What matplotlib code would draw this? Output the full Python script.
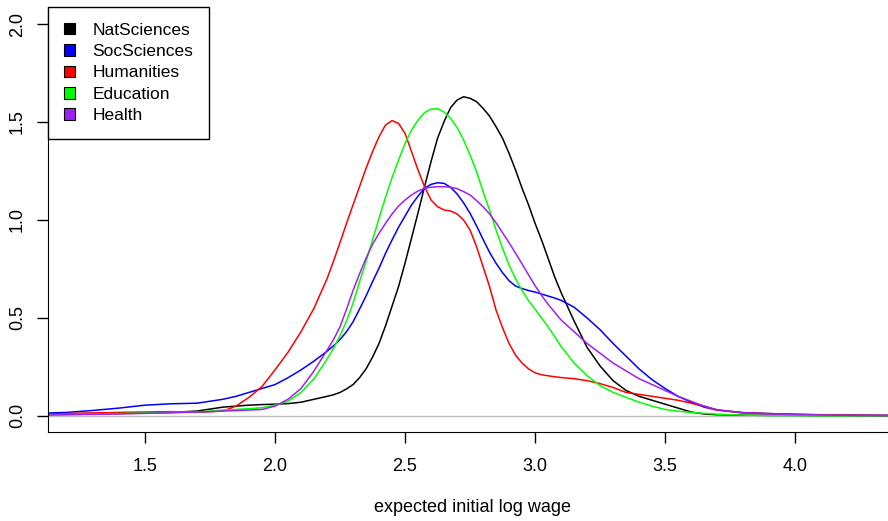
import matplotlib
matplotlib.use("Agg")
import matplotlib.pyplot as plt
from matplotlib.patches import Patch

plt.rcParams['font.family'] = ['Liberation Sans', 'DejaVu Sans']

# log wage values the curves were read at (finer around the peaks)
x = [1.13, 1.2, 1.3, 1.4, 1.5, 1.6, 1.7, 1.8, 1.85, 1.9,
     1.95, 2.0, 2.05, 2.1, 2.15,
     2.2, 2.225, 2.25, 2.275, 2.3, 2.325, 2.35, 2.375, 2.4, 2.425,
     2.45, 2.475, 2.5, 2.525, 2.55, 2.575, 2.6, 2.625, 2.65, 2.675,
     2.7, 2.725, 2.75, 2.775, 2.8, 2.825, 2.85, 2.875, 2.9, 2.925,
     2.95, 2.975, 3.0, 3.025, 3.05, 3.075, 3.1,
     3.15, 3.2, 3.25, 3.3, 3.35, 3.4, 3.45, 3.5, 3.55, 3.6,
     3.65, 3.7, 3.8, 3.9, 4.0, 4.1, 4.2, 4.39]

nat = [0.010, 0.011, 0.013, 0.014, 0.015, 0.018, 0.025, 0.045, 0.050, 0.055,
       0.058, 0.060, 0.063, 0.070, 0.085,
       0.100, 0.108, 0.120, 0.138, 0.160, 0.195, 0.240, 0.300, 0.370, 0.460,
       0.560, 0.660, 0.780, 0.908, 1.037, 1.170, 1.298, 1.417, 1.502, 1.573,
       1.612, 1.629, 1.621, 1.604, 1.570, 1.530, 1.476, 1.417, 1.340, 1.255,
       1.162, 1.077, 0.983, 0.898, 0.805, 0.711, 0.630,
       0.485, 0.350, 0.255, 0.180, 0.130, 0.100, 0.080, 0.060, 0.040, 0.020,
       0.010, 0.006, 0.004, 0.003, 0.003, 0.002, 0.002, 0.001]

soc = [0.015, 0.018, 0.028, 0.040, 0.055, 0.062, 0.065, 0.085, 0.100, 0.120,
       0.140, 0.160, 0.195, 0.235, 0.280,
       0.330, 0.358, 0.390, 0.430, 0.480, 0.545, 0.612, 0.685, 0.754, 0.830,
       0.898, 0.963, 1.020, 1.077, 1.122, 1.162, 1.182, 1.190, 1.187, 1.167,
       1.133, 1.088, 1.034, 0.970, 0.901, 0.835, 0.779, 0.731, 0.690, 0.663,
       0.650, 0.640, 0.632, 0.622, 0.612, 0.602, 0.590,
       0.555, 0.500, 0.440, 0.370, 0.305, 0.240, 0.185, 0.140, 0.100, 0.070,
       0.045, 0.030, 0.017, 0.012, 0.008, 0.006, 0.004, 0.002]

hum = [0.010, 0.012, 0.015, 0.018, 0.020, 0.022, 0.018, 0.025, 0.050, 0.095,
       0.150, 0.235, 0.325, 0.430, 0.550,
       0.700, 0.790, 0.885, 0.983, 1.077, 1.170, 1.264, 1.349, 1.425, 1.485,
       1.507, 1.493, 1.442, 1.349, 1.255, 1.170, 1.102, 1.068, 1.051, 1.046,
       1.031, 1.000, 0.949, 0.864, 0.762, 0.660, 0.540, 0.450, 0.370, 0.310,
       0.270, 0.240, 0.220, 0.210, 0.205, 0.200, 0.196,
       0.190, 0.180, 0.165, 0.145, 0.120, 0.110, 0.100, 0.090, 0.080, 0.065,
       0.050, 0.030, 0.015, 0.012, 0.008, 0.006, 0.004, 0.002]

edu = [0.005, 0.007, 0.010, 0.012, 0.015, 0.018, 0.020, 0.030, 0.033, 0.037,
       0.042, 0.055, 0.075, 0.120, 0.190,
       0.290, 0.345, 0.410, 0.485, 0.575, 0.685, 0.787, 0.898, 1.009, 1.116,
       1.216, 1.306, 1.391, 1.459, 1.510, 1.548, 1.566, 1.568, 1.551, 1.519,
       1.473, 1.408, 1.332, 1.247, 1.145, 1.051, 0.949, 0.855, 0.770, 0.700,
       0.640, 0.588, 0.545, 0.500, 0.455, 0.405, 0.355,
       0.270, 0.205, 0.155, 0.120, 0.095, 0.070, 0.050, 0.033, 0.024, 0.018,
       0.013, 0.009, 0.004, 0.002, 0.002, 0.001, 0.001, 0.001]

hea = [0.005, 0.006, 0.008, 0.010, 0.013, 0.016, 0.020, 0.025, 0.027, 0.030,
       0.033, 0.050, 0.085, 0.140, 0.230,
       0.335, 0.390, 0.455, 0.545, 0.640, 0.725, 0.805, 0.876, 0.932, 0.983,
       1.031, 1.071, 1.102, 1.128, 1.148, 1.162, 1.167, 1.170, 1.170, 1.167,
       1.160, 1.145, 1.128, 1.099, 1.068, 1.031, 0.986, 0.935, 0.884, 0.830,
       0.776, 0.720, 0.665, 0.615, 0.570, 0.530, 0.490,
       0.430, 0.370, 0.320, 0.270, 0.230, 0.190, 0.160, 0.130, 0.100, 0.075,
       0.050, 0.032, 0.016, 0.010, 0.007, 0.005, 0.003, 0.002]

labels = ["NatSciences", "SocSciences", "Humanities", "Education", "Health"]
colors = ["black", "blue", "red", "#00FF00", "#A020F0"]
series = [nat, soc, hum, edu, hea]

xticks = [1.5, 2.0, 2.5, 3.0, 3.5, 4.0]
yticks = [0.0, 0.5, 1.0, 1.5, 2.0]

fig = plt.figure(figsize=(8.88, 5.21), dpi=100)
ax = fig.add_axes([48/888, (521-432)/521, (896-48)/888, (432-7)/521])

ax.axhline(0, color="#bebebe", lw=1.0, zorder=1)
for y, c in zip(series, colors):
    ax.plot(x, y, color=c, lw=1.1, zorder=2, solid_joinstyle="round")

ax.set_xlim(1.127, 4.388)
ax.set_ylim(-0.082, 2.087)
ax.set_xticks(xticks)
ax.set_yticks(yticks)
ax.set_xticklabels(["%.1f" % v for v in xticks])
ax.set_yticklabels(["%.1f" % v for v in yticks], rotation=90, va="center")
ax.tick_params(axis="both", labelsize=13, length=8, width=1)
ax.tick_params(axis="x", pad=11)
ax.tick_params(axis="y", pad=8)

ax.spines["top"].set_visible(False)
ax.spines["right"].set_visible(False)

ax.set_xlabel("expected initial log wage", fontsize=13)
ax.xaxis.set_label_coords(0.5, -(508-432)/(432-7))
ax.xaxis.label.set_va("center")

handles = [Patch(facecolor=c, edgecolor="black", lw=0.8) for c in colors]
leg = ax.legend(handles, labels, loc="upper left", borderaxespad=0,
                fontsize=12.5, fancybox=False, framealpha=1, edgecolor="black",
                handlelength=0.65, handleheight=0.65, handletextpad=1.0,
                labelspacing=0.37, borderpad=0.9)
leg.get_frame().set_linewidth(1.0)

fig.savefig("out.png", dpi=100)
